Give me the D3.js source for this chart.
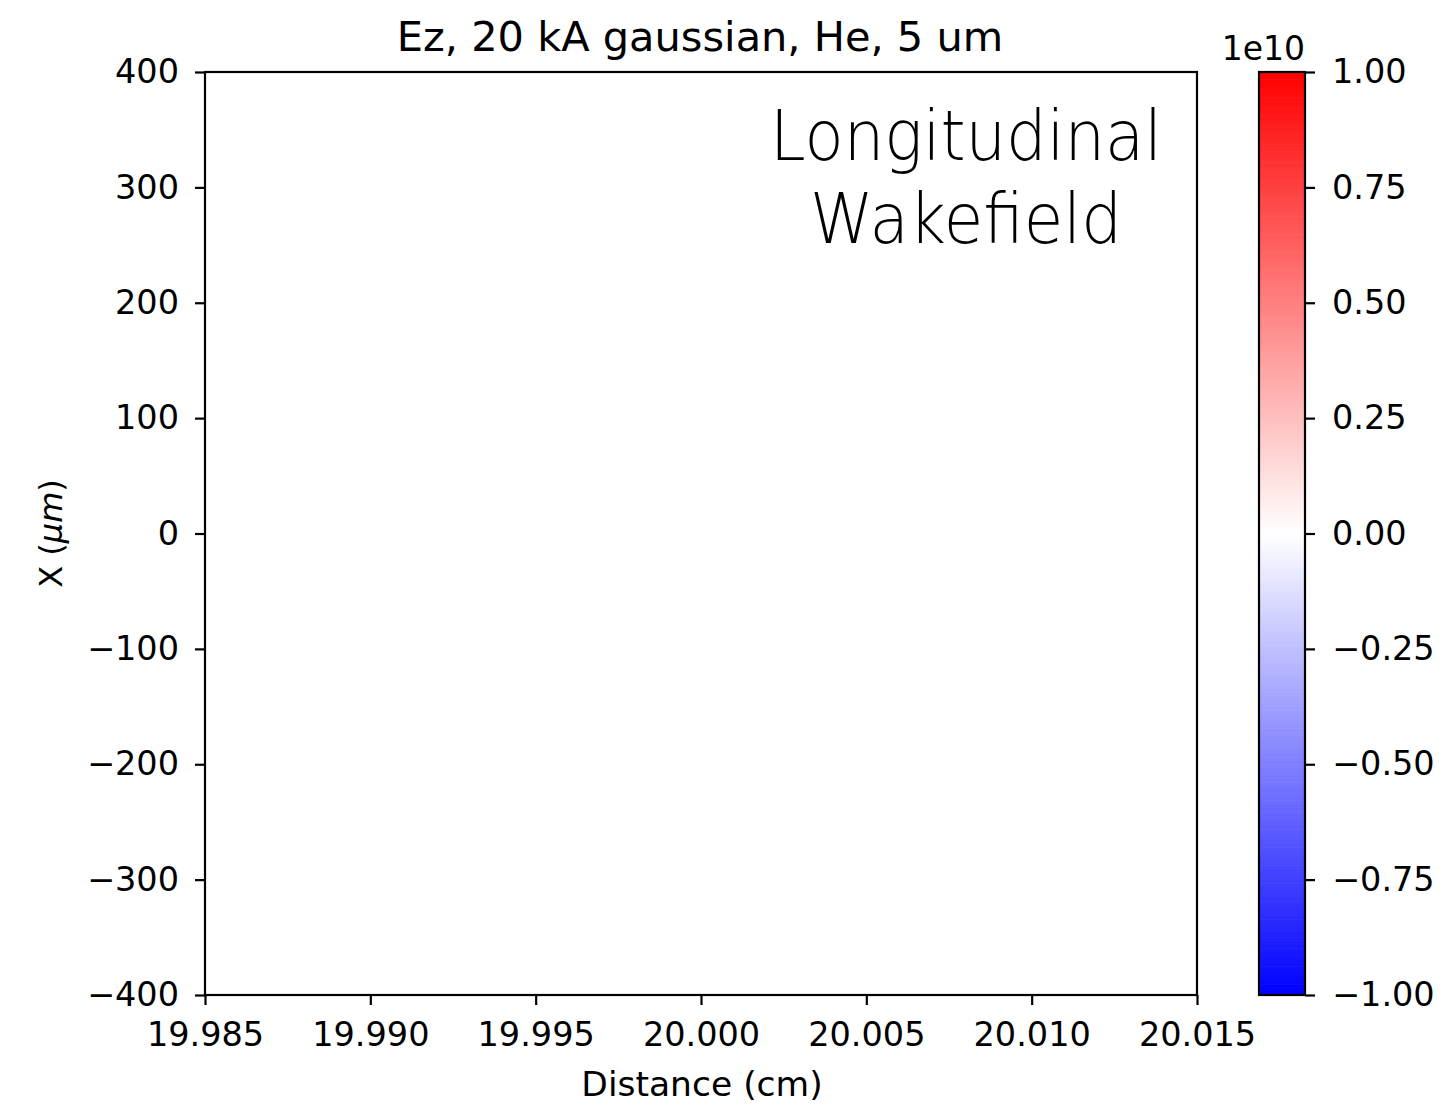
<!DOCTYPE html>
<html>
<head>
<meta charset="utf-8">
<script src="https://cdn.jsdelivr.net/npm/d3@7"></script>
<style>
  html, body { margin: 0; padding: 0; background: #fff; }
  svg { display: block; }
  text { font-family: "DejaVu Sans", sans-serif; fill: #000; }
</style>
</head>
<body>
<svg id="chart" width="1444" height="1106"></svg>
<script>
// Axis extents and ticks
const xDomain = [19.985, 20.015];
const yDomain = [-400, 400];
const xTicks = [19.985, 19.990, 19.995, 20.000, 20.005, 20.010, 20.015];
const yTicks = [-400, -300, -200, -100, 0, 100, 200, 300, 400];
const cbarDomain = [-1, 1];
const cbarTicks = [-1.00, -0.75, -0.50, -0.25, 0.00, 0.25, 0.50, 0.75, 1.00];
const cbarExponent = "1e10";

// Ez field samples (units of 1e10 V/m) on a coarse grid: the field is zero everywhere
const fieldZ = [19.985, 19.995, 20.005, 20.015];
const fieldX = [-400, -133.3, 133.3, 400];
const fieldEz = [
  [0, 0, 0, 0],
  [0, 0, 0, 0],
  [0, 0, 0, 0],
  [0, 0, 0, 0]
];

const titleText = "Ez, 20 kA gaussian, He, 5 um";
const xLabel = "Distance (cm)";
const overlayLines = ["Longitudinal", "Wakefield"];

const svg = d3.select("#chart");
const plot = { left: 205, right: 1197, top: 72, bottom: 995 };
const cbar = { left: 1259, right: 1305, top: 72, bottom: 995 };

const x = d3.scaleLinear().domain(xDomain).range([plot.left, plot.right]);
const y = d3.scaleLinear().domain(yDomain).range([plot.bottom, plot.top]);
const cy = d3.scaleLinear().domain(cbarDomain).range([cbar.bottom, cbar.top]);

// bwr colormap
const bwr = d3.scaleLinear().domain([-1, 0, 1]).range(["#0000ff", "#ffffff", "#ff0000"]).clamp(true);

// Field cells
const cells = [];
for (let i = 0; i < fieldX.length - 1; i++) {
  for (let j = 0; j < fieldZ.length - 1; j++) {
    cells.push({ z0: fieldZ[j], z1: fieldZ[j + 1], x0: fieldX[i], x1: fieldX[i + 1], v: fieldEz[i][j] });
  }
}
svg.append("g").selectAll("rect").data(cells).join("rect")
  .attr("x", d => x(d.z0))
  .attr("y", d => y(d.x1))
  .attr("width", d => x(d.z1) - x(d.z0) + 0.5)
  .attr("height", d => y(d.x0) - y(d.x1) + 0.5)
  .attr("fill", d => bwr(d.v));

// Axes
const tickFont = 33.5;
function styleAxis(g) {
  g.attr("font-size", tickFont).attr("font-family", "DejaVu Sans, sans-serif");
  g.selectAll("line").attr("stroke", "#000").attr("stroke-width", 2.2);
  g.selectAll("text").attr("fill", "#000");
}
const fmtMinus = s => s.replace("-", "\u2212");

const xAxis = svg.append("g").attr("transform", `translate(0,${plot.bottom})`)
  .call(d3.axisBottom(x).tickValues(xTicks).tickFormat(d => fmtMinus(d3.format(".3f")(d))).tickSize(10).tickSizeOuter(0).tickPadding(17));
styleAxis(xAxis);
xAxis.select("path").remove();

const yAxis = svg.append("g").attr("transform", `translate(${plot.left},0)`)
  .call(d3.axisLeft(y).tickValues(yTicks).tickFormat(d => fmtMinus(String(d))).tickSize(10).tickSizeOuter(0).tickPadding(16));
styleAxis(yAxis);
yAxis.select("path").remove();

// Plot frame
svg.append("rect")
  .attr("x", plot.left).attr("y", plot.top)
  .attr("width", plot.right - plot.left).attr("height", plot.bottom - plot.top)
  .attr("fill", "none").attr("stroke", "#000").attr("stroke-width", 2.2);

// Title and axis labels
svg.append("text").attr("x", 700).attr("y", 51)
  .attr("text-anchor", "middle").attr("font-size", 41.5).text(titleText);
svg.append("text").attr("x", 702).attr("y", 1096)
  .attr("text-anchor", "middle").attr("font-size", 34.5).text(xLabel);
const yl = svg.append("text")
  .attr("transform", `translate(62,${(plot.top + plot.bottom) / 2}) rotate(-90)`)
  .attr("text-anchor", "middle").attr("font-size", 32);
yl.append("tspan").text("X (");
yl.append("tspan").attr("font-style", "italic").text("\u03bcm");
yl.append("tspan").text(")");

// Overlay annotation
const ov = svg.append("g").attr("class", "overlay")
  .attr("font-family", "'Open Sans', Lato, 'DejaVu Sans', sans-serif")
  .attr("font-weight", 300).attr("font-size", 70);
ov.append("text").attr("x", 966).attr("y", 160).attr("text-anchor", "middle")
  .attr("textLength", 392).attr("lengthAdjust", "spacingAndGlyphs")
  .text(overlayLines[0]);
ov.append("text").attr("x", 966).attr("y", 243).attr("text-anchor", "middle")
  .attr("textLength", 312).attr("lengthAdjust", "spacingAndGlyphs")
  .text(overlayLines[1]);

// Colorbar
const steps = d3.range(256).map(i => cbarDomain[0] + (cbarDomain[1] - cbarDomain[0]) * (i + 0.5) / 256);
const stepH = (cbar.bottom - cbar.top) / 256;
svg.append("g").selectAll("rect").data(steps).join("rect")
  .attr("x", cbar.left)
  .attr("y", d => cy(d) - stepH / 2)
  .attr("width", cbar.right - cbar.left)
  .attr("height", stepH + 0.6)
  .attr("fill", d => bwr(d));
svg.append("rect")
  .attr("x", cbar.left).attr("y", cbar.top)
  .attr("width", cbar.right - cbar.left).attr("height", cbar.bottom - cbar.top)
  .attr("fill", "none").attr("stroke", "#000").attr("stroke-width", 2.2);

const cAxis = svg.append("g").attr("transform", `translate(${cbar.right},0)`)
  .call(d3.axisRight(cy).tickValues(cbarTicks).tickFormat(d => fmtMinus(d3.format(".2f")(d))).tickSize(10).tickSizeOuter(0).tickPadding(17));
styleAxis(cAxis);
cAxis.select("path").remove();

svg.append("text").attr("x", cbar.right).attr("y", 60).attr("text-anchor", "end")
  .attr("font-size", 33).text(cbarExponent);
</script>
</body>
</html>
